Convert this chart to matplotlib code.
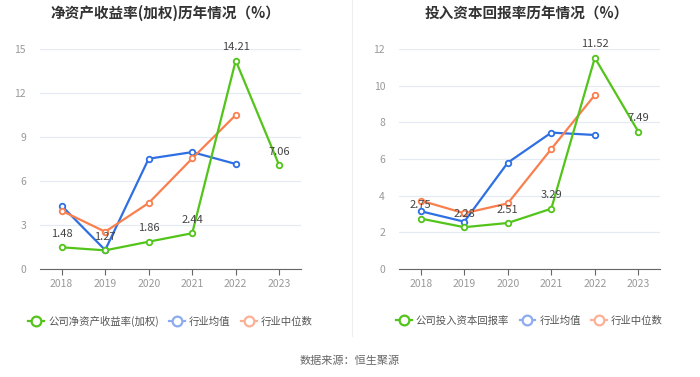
import matplotlib.pyplot as plt
from matplotlib.lines import Line2D

plt.rcParams['font.family'] = ['Noto Sans CJK SC', 'DejaVu Sans']

years = ['2018', '2019', '2020', '2021', '2022', '2023']

# 净资产收益率(加权)
roe_company = [1.48, 1.27, 1.86, 2.44, 14.21, 7.06]
roe_avg = [4.31, 1.29, 7.52, 7.97, 7.16]
roe_median = [3.97, 2.54, 4.50, 7.54, 10.50]

# 投入资本回报率
roic_company = [2.75, 2.28, 2.51, 3.29, 11.52, 7.49]
roic_avg = [3.15, 2.58, 5.80, 7.44, 7.31]
roic_median = [3.73, 3.04, 3.58, 6.55, 9.49]

GREEN = '#52c41a'
BLUE = '#2f6fe4'
ORANGE = '#fa7f4f'
BLUE_L = '#8cabf0'
ORANGE_L = '#fcb096'


def draw(ax, company, avg, median, yticks, title, label):
    x = list(range(len(years)))
    ax.plot(x[:len(avg)], avg, color=BLUE, lw=1.6, marker='o', ms=4,
            mfc='white', mew=1.3, zorder=3)
    ax.plot(x[:len(median)], median, color=ORANGE, lw=1.6, marker='o', ms=4,
            mfc='white', mew=1.3, zorder=3)
    ax.plot(x, company, color=GREEN, lw=1.6, marker='o', ms=4,
            mfc='white', mew=1.3, zorder=4)
    for xi, v in zip(x, company):
        ax.annotate(f'{v:.2f}', (xi, v), xytext=(0, 6), textcoords='offset points',
                    ha='center', va='bottom', fontsize=8, color='#444444', zorder=5)
    ax.set_xlim(-0.5, len(years) - 0.5)
    ax.set_ylim(yticks[0], yticks[-1])
    ax.set_yticks(yticks)
    ax.set_xticks(x)
    ax.set_xticklabels(years)
    ax.tick_params(axis='both', colors='#999999', labelsize=7.5)
    ax.tick_params(axis='y', length=0, pad=10)
    ax.tick_params(axis='x', length=4, color='#666666', pad=3)
    ax.grid(axis='y', color='#e6ebf3', lw=0.9)
    ax.set_axisbelow(True)
    for s in ['top', 'right', 'left']:
        ax.spines[s].set_visible(False)
    ax.spines['bottom'].set_color('#666666')

    handles = [
        Line2D([], [], color=GREEN, lw=1.6, marker='o', ms=7, mfc='white', mew=1.6),
        Line2D([], [], color=BLUE_L, lw=1.6, marker='o', ms=7, mfc='white', mew=1.6),
        Line2D([], [], color=ORANGE_L, lw=1.6, marker='o', ms=7, mfc='white', mew=1.6),
    ]
    ax.legend(handles, [label, '行业均值', '行业中位数'], loc='upper center',
              bbox_to_anchor=(0.5, -0.17), ncol=3, frameon=False, fontsize=7.5,
              labelcolor='#555555', handlelength=1.5, handletextpad=0.4,
              columnspacing=1.0)


fig = plt.figure(figsize=(7, 3.77), dpi=100)
ax1 = fig.add_axes([0.057, 0.2865, 0.373, 0.5835])
ax2 = fig.add_axes([0.570, 0.2865, 0.373, 0.5835])

draw(ax1, roe_company, roe_avg, roe_median, [0, 3, 6, 9, 12, 15],
     '净资产收益率(加权)历年情况（%）', '公司净资产收益率(加权)')
draw(ax2, roic_company, roic_avg, roic_median, [0, 2, 4, 6, 8, 10, 12],
     '投入资本回报率历年情况（%）', '公司投入资本回报率')

fig.text(0.237, 0.966, '净资产收益率(加权)历年情况（%）', ha='center', va='center',
         fontsize=10.5, fontweight='bold', color='#333333')
fig.text(0.753, 0.966, '投入资本回报率历年情况（%）', ha='center', va='center',
         fontsize=10.5, fontweight='bold', color='#333333')

fig.add_artist(Line2D([0.503, 0.503], [0.11, 1.0], color='#eeeeee', lw=0.8))
fig.text(0.5, 0.042, '数据来源：恒生聚源', ha='center', va='center',
         fontsize=8, color='#666666')

fig.savefig('out.png', dpi=100)
